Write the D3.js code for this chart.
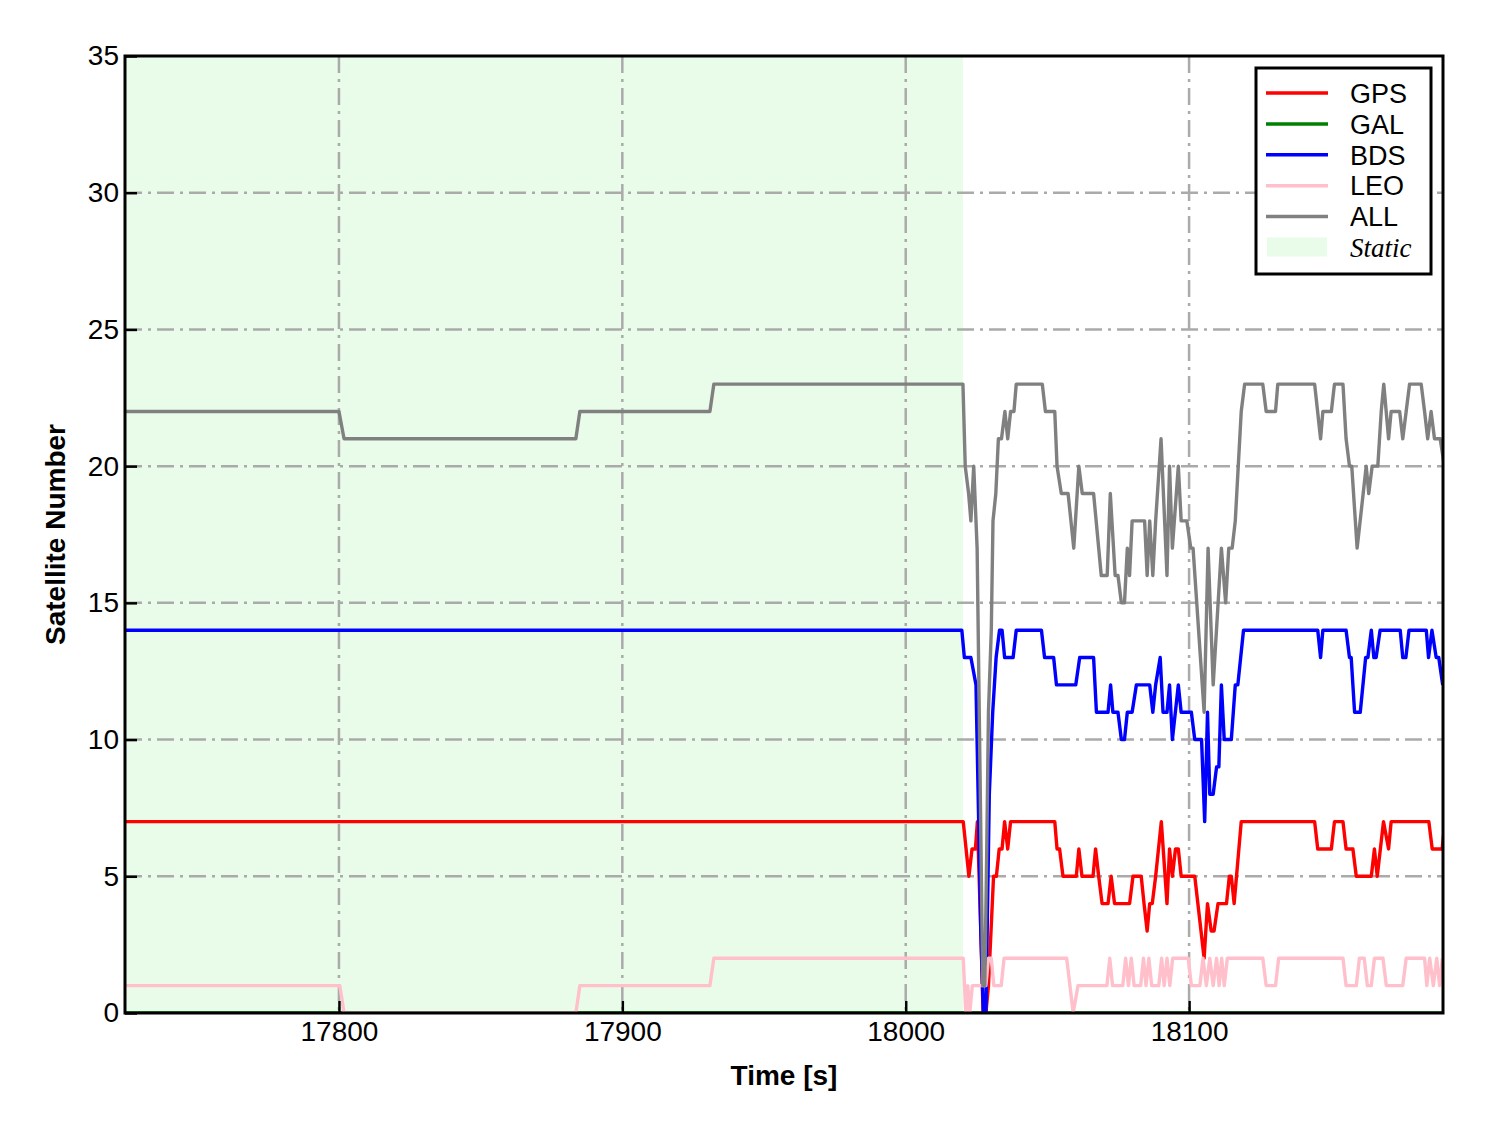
<!DOCTYPE html>
<head>
  <meta charset="utf-8">
  <script src="https://d3js.org/d3.v7.min.js"></script>
  <style>
    body { margin:0; background:#fff; }
    .tick text { font-family: "Liberation Sans", Arial, sans-serif; font-size: 28px; fill: #000; }
    .axis path.domain { display: none; }
    .axis .tick line { stroke: #000; stroke-width: 2.5; }
    .grid line { stroke: #aaaaaa; stroke-width: 2.5; stroke-dasharray: 17,6,3,6; }
    .series { fill: none; stroke-width: 3.4; stroke-linejoin: round; }
    .axis-label { font-family: "Liberation Sans", Arial, sans-serif; font-size: 28px; font-weight: bold; }
    .legend text { font-family: "Liberation Sans", Arial, sans-serif; font-size: 27px; }
  </style>
</head>

<body>
  <script>
    // [time (s), satellite count]
    var gpsData = [
      [17724.5,7],[18020.3,7],[18022.3,5],[18023.4,6],[18024.6,6],[18025.3,7],[18026.5,3],[18027.3,0],
      [18028.3,0],[18029.2,1],[18030.1,3],[18031.0,5],[18032.0,5],[18033.0,6],[18034.0,6],[18034.9,7],
      [18036.0,6],[18037.0,7],[18052.6,7],[18053.4,6],[18054.3,6],[18055.5,5],[18060.2,5],[18061.1,6],
      [18062.2,5],[18066.1,5],[18067.0,6],[18068.1,5],[18069.3,4],[18071.4,4],[18072.5,5],[18073.7,4],
      [18079.0,4],[18080.2,5],[18083.1,5],[18084.1,4],[18085.2,3],[18086.1,4],[18087.0,4],[18088.2,5],
      [18090.2,7],[18092.2,4],[18093.1,6],[18094.1,5],[18095.2,6],[18096.2,6],[18097.2,5],[18102.0,5],
      [18105.3,2],[18106.5,4],[18107.8,3],[18108.8,3],[18110.2,4],[18113.2,4],[18114.2,5],[18114.9,5],
      [18115.9,4],[18118.4,7],[18144.3,7],[18145.4,6],[18150.2,6],[18151.3,7],[18154.3,7],[18155.4,6],
      [18157.8,6],[18159.0,5],[18164.3,5],[18165.4,6],[18166.4,5],[18168.6,7],[18170.4,6],[18171.3,7],
      [18184.6,7],[18185.8,6],[18189.3,6],[18190.3,7]
    ];

    var galData = [[17724.5,0],[18189.6,0]];

    var bdsData = [
      [17724.5,14],[18019.8,14],[18020.7,13],[18023.0,13],[18024.8,12],[18026.5,3],[18027.4,0],[18028.3,0],
      [18029.5,8],[18030.7,11],[18031.9,13],[18033.1,14],[18034.0,14],[18034.9,13],[18037.9,13],[18039.0,14],
      [18047.9,14],[18049.0,13],[18052.2,13],[18053.2,12],[18060.0,12],[18061.4,13],[18066.3,13],[18067.3,11],
      [18071.4,11],[18072.3,12],[18073.1,11],[18074.9,11],[18076.1,10],[18077.2,10],[18078.2,11],[18079.9,11],
      [18081.4,12],[18086.1,12],[18087.2,11],[18088.2,12],[18089.8,13],[18090.8,11],[18092.2,11],[18093.1,12],
      [18094.1,10],[18096.2,12],[18097.2,11],[18100.8,11],[18102.0,10],[18104.4,10],[18105.5,7],[18106.5,11],
      [18107.3,8],[18108.5,8],[18109.7,9],[18110.5,9],[18111.4,12],[18112.4,10],[18114.9,10],[18116.3,12],
      [18117.2,12],[18119.2,14],[18145.4,14],[18146.4,13],[18147.2,14],[18155.4,14],[18156.6,13],[18157.2,13],
      [18158.4,11],[18160.4,11],[18162.3,13],[18163.1,13],[18164.3,14],[18165.2,13],[18166.0,13],[18167.4,14],
      [18174.5,14],[18175.4,13],[18176.5,13],[18177.6,14],[18183.7,14],[18184.5,13],[18185.7,14],[18187.2,13],
      [18188.1,13],[18189.5,12]
    ];

    var leoData = [
      [17724.5,1],[17800.3,1],[17801.8,0],[17883.6,0],[17885.0,1],[17930.9,1],[17932.3,2],[18020.3,2],
      [18021.2,0],[18021.9,1],[18022.6,0],[18023.5,1],[18028.3,1],[18029.2,2],[18030.2,2],[18031.1,1],
      [18033.7,1],[18034.7,2],[18056.8,2],[18059.1,0],[18060.8,1],[18071.0,1],[18072.0,2],[18073.0,1],
      [18076.6,1],[18077.6,2],[18078.6,1],[18079.6,2],[18080.6,1],[18082.9,1],[18083.9,2],[18084.8,1],
      [18085.8,2],[18086.8,1],[18089.3,1],[18090.3,2],[18091.2,1],[18092.2,2],[18093.2,1],[18094.2,2],
      [18099.7,2],[18100.8,1],[18103.8,1],[18104.9,2],[18106.1,1],[18107.3,2],[18108.5,1],[18109.7,2],
      [18110.6,1],[18111.5,2],[18112.4,1],[18113.5,2],[18126.0,2],[18127.2,1],[18130.5,1],[18131.6,2],
      [18154.3,2],[18155.4,1],[18159.0,1],[18160.1,2],[18161.8,2],[18162.9,1],[18164.3,1],[18165.4,2],
      [18168.4,2],[18169.6,1],[18175.4,1],[18176.6,2],[18183.1,2],[18183.9,1],[18184.9,2],[18186.2,1],
      [18187.4,2],[18188.4,1],[18189.4,2]
    ];

    var allData = [
      [17724.5,22],[17800.0,22],[17801.8,21],[17883.6,21],[17885.0,22],[17930.9,22],[17932.3,23],[18020.2,23],
      [18021.0,20],[18022.2,19],[18023.0,18],[18024.0,20],[18025.2,17],[18027.2,1],[18027.9,1],[18028.6,6],
      [18029.2,11],[18030.2,14],[18030.8,18],[18031.8,19],[18032.7,21],[18033.8,21],[18035.0,22],[18036.0,21],
      [18037.0,22],[18038.2,22],[18039.0,23],[18048.2,23],[18049.3,22],[18052.6,22],[18053.4,20],[18054.9,19],
      [18057.3,19],[18059.3,17],[18061.1,20],[18062.3,19],[18066.3,19],[18069.0,16],[18071.1,16],[18072.2,19],
      [18073.9,16],[18074.9,16],[18076.1,15],[18077.2,15],[18078.2,17],[18079.0,16],[18079.9,18],[18084.3,18],
      [18085.2,16],[18086.1,18],[18087.2,16],[18088.2,18],[18090.1,21],[18092.2,16],[18093.1,20],[18094.1,17],
      [18096.2,20],[18097.2,18],[18099.2,18],[18100.6,17],[18101.4,17],[18105.3,11],[18106.7,17],[18108.5,12],
      [18111.4,17],[18112.9,15],[18114.0,17],[18115.2,17],[18116.3,18],[18118.4,22],[18119.6,23],[18126.0,23],
      [18127.2,22],[18130.5,22],[18131.3,23],[18144.3,23],[18146.4,21],[18147.2,22],[18150.2,22],[18151.3,23],
      [18154.3,23],[18155.4,21],[18156.6,20],[18157.4,20],[18159.3,17],[18162.5,20],[18163.4,19],[18164.6,20],
      [18166.6,20],[18167.8,22],[18168.7,23],[18170.4,21],[18171.3,22],[18174.3,22],[18175.4,21],[18176.6,22],
      [18177.8,23],[18181.9,23],[18183.1,22],[18184.2,21],[18185.4,22],[18186.6,21],[18188.6,21],[18190.1,20]
    ];

    var staticSpan = [17724.5, 18020.2];
    var xTicks = [17800, 17900, 18000, 18100];
    var yTicks = [0, 5, 10, 15, 20, 25, 30, 35];

    var seriesNames = ["GPS", "GAL", "BDS", "LEO", "ALL"];
    var seriesColors = ["#ff0000", "#008000", "#0000ff", "#ffc0cb", "#808080"];
    var seriesData = [gpsData, galData, bdsData, leoData, allData];

    var margin = {top: 56, right: 45, bottom: 120, left: 125};
    var width = 1488 - margin.left - margin.right,
        height = 1133 - margin.top - margin.bottom;

    var svg = d3.select("body").append("svg")
        .attr("width", 1488)
        .attr("height", 1133)
      .append("g")
        .attr("transform", "translate(" + margin.left + "," + margin.top + ")");

    var x = d3.scaleLinear().domain([17724.5, 18189.6]).range([0, width]);
    var y = d3.scaleLinear().domain([0, 35]).range([height, 0]);

    svg.append("defs").append("clipPath")
        .attr("id", "clipPlot")
      .append("rect")
        .attr("width", width)
        .attr("height", height);

    // static period shading
    svg.append("rect")
        .attr("x", x(staticSpan[0]))
        .attr("y", 0)
        .attr("width", x(staticSpan[1]) - x(staticSpan[0]))
        .attr("height", height)
        .attr("fill", "#e9fce9");

    // grid
    var grid = svg.append("g").attr("class", "grid");
    grid.selectAll(".vgrid")
        .data(xTicks)
      .enter().append("line")
        .attr("x1", function(d) { return x(d); })
        .attr("x2", function(d) { return x(d); })
        .attr("y1", 0)
        .attr("y2", height);
    grid.selectAll(".hgrid")
        .data(yTicks.slice(1, -1))
      .enter().append("line")
        .attr("x1", 0)
        .attr("x2", width)
        .attr("y1", function(d) { return y(d); })
        .attr("y2", function(d) { return y(d); });

    var line = d3.line()
        .x(function(d) { return x(d[0]); })
        .y(function(d) { return y(d[1]); });

    svg.append("g")
        .attr("clip-path", "url(#clipPlot)")
      .selectAll("path")
        .data(seriesData)
      .enter().append("path")
        .attr("class", "series")
        .attr("stroke", function(d, i) { return seriesColors[i]; })
        .attr("d", line);

    svg.append("g")
        .attr("class", "x axis")
        .attr("transform", "translate(0," + height + ")")
        .call(d3.axisBottom(x).tickValues(xTicks).tickFormat(d3.format("d"))
              .tickSizeInner(-12).tickSizeOuter(0).tickPadding(8));

    svg.append("g")
        .attr("class", "y axis")
        .call(d3.axisLeft(y).tickValues(yTicks)
              .tickSizeInner(-12).tickSizeOuter(0).tickPadding(6));

    // frame
    svg.append("rect")
        .attr("width", width)
        .attr("height", height)
        .attr("fill", "none")
        .attr("stroke", "#000")
        .attr("stroke-width", 3);

    svg.append("text")
        .attr("class", "axis-label")
        .attr("x", width / 2)
        .attr("y", height + 72)
        .attr("text-anchor", "middle")
        .text("Time [s]");

    svg.append("text")
        .attr("class", "axis-label")
        .attr("transform", "translate(-70," + (height / 2) + ") rotate(-90)")
        .attr("text-anchor", "middle")
        .attr("dy", "0.35em")
        .text("Satellite Number");

    // legend
    var legend = svg.append("g")
        .attr("class", "legend")
        .attr("transform", "translate(" + (width - 187) + ",12)");

    legend.append("rect")
        .attr("width", 175)
        .attr("height", 206)
        .attr("fill", "#fff")
        .attr("stroke", "#000")
        .attr("stroke-width", 3);

    var rowY = function(i) { return 25 + i * 30.9; };

    seriesNames.forEach(function(name, i) {
      legend.append("line")
          .attr("x1", 10).attr("x2", 72)
          .attr("y1", rowY(i)).attr("y2", rowY(i))
          .attr("stroke", seriesColors[i])
          .attr("stroke-width", 3.5);
      legend.append("text")
          .attr("x", 94)
          .attr("y", rowY(i))
          .attr("dy", "0.36em")
          .text(name);
    });

    legend.append("rect")
        .attr("x", 11).attr("y", rowY(5) - 10)
        .attr("width", 60).attr("height", 19)
        .attr("fill", "#e9fce9");
    legend.append("text")
        .attr("x", 94)
        .attr("y", rowY(5))
        .attr("dy", "0.36em")
        .style("font-family", "'Liberation Serif', 'Times New Roman', serif")
        .style("font-style", "italic")
        .text("Static");
  </script>
</body>
